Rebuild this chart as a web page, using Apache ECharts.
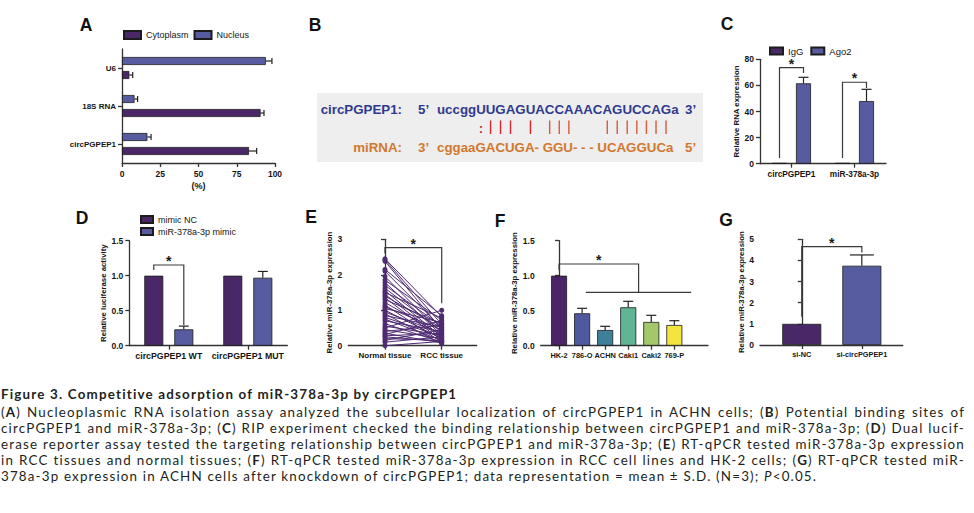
<!DOCTYPE html>
<html><head><meta charset="utf-8">
<script src="https://cdn.jsdelivr.net/npm/echarts@6/dist/echarts.min.js"></script>
<style>
html,body{margin:0;padding:0;background:#fff;}
#wrap{position:relative;width:974px;height:513px;overflow:hidden;background:#fff;}
#chart{position:absolute;left:0;top:0;width:974px;height:513px;}
#caption{position:absolute;left:1px;top:386px;width:964px;font-family:Lato,"Liberation Sans",sans-serif;font-size:13.4px;color:#231f20;}
.ln{text-align:justify;text-align-last:justify;height:16.1px;line-height:16.1px;white-space:normal;}
.last{text-align:left;text-align-last:left;}
.ttl{font-weight:bold;height:17.6px;line-height:17.6px;text-align:left;text-align-last:left;}
#probe{position:absolute;left:0;top:0;visibility:hidden;white-space:nowrap;display:inline-block;font-family:Lato,"Liberation Sans",sans-serif;font-size:13.4px;}
</style></head>
<body>
<div id="wrap">
<div id="chart"></div>
<div id="caption">
<div class="ln ttl" id="ttl">Figure 3. Competitive adsorption of miR-378a-3p by circPGPEP1</div>
<div class="ln body">(<b>A</b>) Nucleoplasmic RNA isolation assay analyzed the subcellular localization of circPGPEP1 in ACHN cells; (<b>B</b>) Potential binding sites of</div>
<div class="ln body">circPGPEP1 and miR-378a-3p; (<b>C</b>) RIP experiment checked the binding relationship between circPGPEP1 and miR-378a-3p; (<b>D</b>) Dual lucif-</div>
<div class="ln body">erase reporter assay tested the targeting relationship between circPGPEP1 and miR-378a-3p; (<b>E</b>) RT-qPCR tested miR-378a-3p expression</div>
<div class="ln body">in RCC tissues and normal tissues; (<b>F</b>) RT-qPCR tested miR-378a-3p expression in RCC cell lines and HK-2 cells; (<b>G</b>) RT-qPCR tested miR-</div>
<div class="ln last body" id="lastln">378a-3p expression in ACHN cells after knockdown of circPGPEP1; data representation = mean ± S.D. (N=3); <i>P</i>&lt;0.05.</div>
</div>
<div id="probe"></div>
</div>
<script>
// fit caption spacing so that line lengths follow the reference
function fitCaption() {
  const probe = document.getElementById('probe');
  function natural(el, ls, bold) {
    probe.innerHTML = el.innerHTML;
    probe.style.letterSpacing = ls + 'px';
    probe.style.fontWeight = bold ? 'bold' : 'normal';
    return probe.getBoundingClientRect().width;
  }
  const last = document.getElementById('lastln');
  const n = last.textContent.length;
  const w0 = natural(last, 0, false);
  const ls = w0 > 0 ? (816 - w0) / n : 0;
  document.querySelectorAll('#caption .body').forEach(el => {
    let l = ls;
    const w = natural(el, l, false);
    if (!el.classList.contains('last') && w > 961) l -= (w - 961) / el.textContent.length;
    el.style.letterSpacing = l.toFixed(3) + 'px';
  });
  const t = document.getElementById('ttl');
  const wt = natural(t, 0, true);
  if (wt > 0) t.style.letterSpacing = ((457 - wt) / t.textContent.length).toFixed(3) + 'px';
}
fitCaption();
if (document.fonts && document.fonts.ready) document.fonts.ready.then(fitCaption);

// ================= DATA =================
// A
const aCategories = ['circPGPEP1', '18S RNA', 'U6'];
const aCytoplasm = [83, 90.6, 4.8];
const aCytoplasmErr = [5, 2.2, 2.2];
const aNucleus = [16.6, 8.2, 94];
const aNucleusErr = [2.4, 2, 4];
// B
const seqTop = 'uccggUUGAGUACCAAACAGUCCAGa';
const seqBottomAligned = 'cggaaGACUGA-GGU---UCAGGUCa';
const seqBottomShown = 'cggaaGACUGA- GGU- - - UCAGGUCa';
// C
const cCategories = ['circPGPEP1', 'miR-378a-3p'];
const cIgG = [0.5, 0.5];
const cAgo2 = [61.6, 48];
const cAgo2Err = [4.6, 9];
// D
const dCategories = ['circPGPEP1 WT', 'circPGPEP1 MUT'];
const dMimicNC = [1.0, 1.0];
const dMimic = [0.234, 0.971];
const dMimicErr = [0.046, 0.09];
// E
const eCategories = ['Normal tissue', 'RCC tissue'];
const eNormal = [2.45, 2.42, 2.38, 2.15, 2.1, 1.95, 1.85, 1.78, 1.7, 1.62, 1.55, 1.5, 1.45, 1.4, 1.35, 1.3, 1.22, 1.15, 1.1, 1.05, 1.0, 0.95, 0.9, 0.85, 0.8, 0.75, 0.7, 0.62, 0.55, 0.5, 0.45, 0.4, 0.35, 0.32, 0.28, 0.25, 0.2, 0.15, 0.1, 0.0];
const eRCC    = [0.82, 0.6, 0.45, 0.85, 0.5, 0.35, 0.72, 0.3, 0.55, 0.4, 0.25, 0.78, 0.2, 0.5, 0.15, 0.62, 0.3, 0.1, 0.45, 0.65, 0.2, 0.35, 0.05, 0.52, 0.25, 0.15, 0.4, 0.1, 0.3, 1.0, 0.2, 0.58, 0.08, 0.7, 0.35, 0.12, 0.15, 0.45, 0.25, 0.12];
// F
const fCategories = ['HK-2', '786-O', 'ACHN', 'Caki1', 'Caki2', '769-P'];
const fValues = [1.0, 0.463, 0.224, 0.549, 0.339, 0.296];
const fErrors = [0, 0.071, 0.053, 0.085, 0.095, 0.061];
// G
const gCategories = ['si-NC', 'si-circPGPEP1'];
const gValues = [1.0, 3.75];
const gErrors = [0, 0.51];

// ================= STYLE =================
const FONT = '"Liberation Sans", Arial, Helvetica, sans-serif';
const PURPLE = '#4a2868';
const BLUE = '#565c9f';
const fColors = ['#4a2466', '#4f5a9e', '#3f7f9a', '#5fb594', '#a3c86c', '#f3e43f'];
const gColors = [PURPLE, BLUE];
const AXC = '#333';
const lineStyle = {color: AXC, width: 1.3};
const lbl = size => ({fontSize: size, fontWeight: 'bold', color: '#151515', fontFamily: FONT, margin: 6});
const nameStyle = {fontSize: 7.8, fontWeight: 'bold', color: '#151515', fontFamily: FONT};
const barItem = c => ({color: c, borderColor: '#1c1c1c', borderWidth: 0.8});

function catAxis(gridIndex, data, size, extra) {
  return Object.assign({type: 'category', gridIndex, data,
    axisLine: {show: true, lineStyle}, axisTick: {show: true, alignWithLabel: true, length: 4, lineStyle},
    axisLabel: Object.assign({interval: 0}, lbl(size)), splitLine: {show: false}}, extra || {});
}
function valAxis(gridIndex, min, max, interval, fmt, extra) {
  return Object.assign({type: 'value', gridIndex, min, max, interval,
    axisLine: {show: true, lineStyle}, axisTick: {show: true, length: 4, lineStyle},
    axisLabel: Object.assign({formatter: fmt}, lbl(8.5)), splitLine: {show: false}}, extra || {});
}
function customValAxis(gridIndex, min, max, names, size) {
  const vals = names.map((n, i) => i);
  return {type: 'value', gridIndex, min, max,
    axisLine: {show: true, lineStyle}, axisTick: {show: true, length: 4, lineStyle, customValues: vals},
    axisLabel: Object.assign({customValues: vals, hideOverlap: false, formatter: v => names[Math.round(v)]}, lbl(size)),
    splitLine: {show: false}};
}
function yName(name, gap) {
  return {name, nameLocation: 'middle', nameGap: gap, nameRotate: 90, nameTextStyle: nameStyle};
}

// error bars (vertical)
function vErr(ax, vals, errs, dx, capHalf) {
  return {type: 'custom', xAxisIndex: ax, yAxisIndex: ax, z: 6, silent: true,
    data: vals.map((v, i) => [i, v, errs[i]]),
    renderItem: (params, api) => {
      const e = api.value(2); if (!e) return null;
      const p0 = api.coord([api.value(0), api.value(1)]);
      const p1 = api.coord([api.value(0), api.value(1) + e]);
      const x = p0[0] + dx;
      const st = {stroke: '#222', lineWidth: 1.2};
      return {type: 'group', children: [
        {type: 'line', shape: {x1: x, y1: p0[1], x2: x, y2: p1[1]}, style: st},
        {type: 'line', shape: {x1: x - capHalf, y1: p1[1], x2: x + capHalf, y2: p1[1]}, style: st}]};
    }};
}
// error bars (horizontal, panel A)
function hErr(ax, vals, errs, dy, capHalf) {
  return {type: 'custom', xAxisIndex: ax, yAxisIndex: ax, z: 6, silent: true,
    data: vals.map((v, i) => [v, i, errs[i]]),
    renderItem: (params, api) => {
      const e = api.value(2); if (!e) return null;
      const p0 = api.coord([api.value(0), api.value(1)]);
      const p1 = api.coord([api.value(0) + e, api.value(1)]);
      const y = p0[1] + dy;
      const st = {stroke: '#222', lineWidth: 1.2};
      return {type: 'group', children: [
        {type: 'line', shape: {x1: p0[0], y1: y, x2: p1[0], y2: y}, style: st},
        {type: 'line', shape: {x1: p1[0], y1: y - capHalf, x2: p1[0], y2: y + capHalf}, style: st}]};
    }};
}
// significance brackets
function brackets(ax, items) {
  return {type: 'custom', xAxisIndex: ax, yAxisIndex: ax, z: 7, silent: true,
    data: items.map(b => [b.x1, b.top]),
    renderItem: (params, api) => {
      const b = items[params.dataIndex];
      const pL = api.coord([b.x1, b.top]), pR = api.coord([b.x2, b.top]);
      const xL = pL[0] + (b.dx1 || 0), xR = pR[0] + (b.dx2 || 0), yT = pL[1];
      const yL = api.coord([b.x1, b.y1])[1], yR = api.coord([b.x2, b.y2])[1];
      const st = {stroke: '#3a3a3a', lineWidth: 1.2, fill: null};
      const ch = [
        {type: 'polyline', shape: {points: [[xL, yL], [xL, yT], [xR, yT], [xR, yR]]}, style: st},
        {type: 'text', style: {text: '*', x: (xL + xR) / 2, y: yT - 4, textAlign: 'center', textVerticalAlign: 'middle',
          font: 'bold 14px ' + FONT, fill: '#1a1a1a'}}];
      if (b.group) {
        const g1 = api.coord([b.group.from, b.group.y]), g2 = api.coord([b.group.to, b.group.y]);
        ch.push({type: 'line', shape: {x1: g1[0], y1: g1[1], x2: g2[0], y2: g2[1]}, style: st});
      }
      return {type: 'group', children: ch};
    }};
}

// ================= PANEL B (sequence alignment) =================
const SEQ_FONT = 'bold 13.3px ' + FONT;
const seqX = 437;
const meas = document.createElement('canvas').getContext('2d');
meas.font = SEQ_FONT;
function pairType(t, b) {
  if (t !== t.toUpperCase() || b === '-' || b !== b.toUpperCase()) return null;
  const p = t + b;
  if (['AU', 'UA', 'GC', 'CG'].includes(p)) return '|';
  if (['GU', 'UG'].includes(p)) return ':';
  return null;
}
const bGraphics = [
  {type: 'rect', shape: {x: 317, y: 93, width: 386, height: 69}, style: {fill: '#eeeeee'}, z: 1},
  {type: 'text', style: {text: 'circPGPEP1:', x: 402, y: 109, textAlign: 'right', textVerticalAlign: 'middle', font: SEQ_FONT, fill: '#2e3a8e'}, z: 2},
  {type: 'text', style: {text: '5\u2019', x: 418, y: 109, textVerticalAlign: 'middle', font: SEQ_FONT, fill: '#2e3a8e'}, z: 2},
  {type: 'text', style: {text: seqTop, x: seqX, y: 109, textVerticalAlign: 'middle', font: SEQ_FONT, fill: '#2e3a8e'}, z: 2},
  {type: 'text', style: {text: '3\u2019', x: 685, y: 109, textVerticalAlign: 'middle', font: SEQ_FONT, fill: '#2e3a8e'}, z: 2},
  {type: 'text', style: {text: 'miRNA:', x: 402, y: 147, textAlign: 'right', textVerticalAlign: 'middle', font: SEQ_FONT, fill: '#d2782e'}, z: 2},
  {type: 'text', style: {text: '3\u2019', x: 418, y: 147, textVerticalAlign: 'middle', font: SEQ_FONT, fill: '#d2782e'}, z: 2},
  {type: 'text', style: {text: seqBottomShown, x: seqX, y: 147, textVerticalAlign: 'middle', font: SEQ_FONT, fill: '#d2782e'}, z: 2},
  {type: 'text', style: {text: '5\u2019', x: 685, y: 147, textVerticalAlign: 'middle', font: SEQ_FONT, fill: '#d2782e'}, z: 2}
];
for (let i = 0; i < seqTop.length; i++) {
  const pt = pairType(seqTop[i], seqBottomAligned[i]);
  if (!pt) continue;
  const cx = seqX + meas.measureText(seqTop.slice(0, i)).width + meas.measureText(seqTop[i]).width / 2;
  const col = i < 12 ? '#d4262c' : '#d65a3c';
  if (pt === '|') bGraphics.push({type: 'line', shape: {x1: cx, y1: 120.5, x2: cx, y2: 134}, style: {stroke: col, lineWidth: 1.4}, z: 2});
  else bGraphics.push({type: 'text', style: {text: ':', x: cx, y: 128, textAlign: 'center', textVerticalAlign: 'middle', font: SEQ_FONT, fill: col}, z: 2});
}
// panel letters
const letters = [['A', 86, 25], ['B', 315, 25], ['C', 727, 24], ['D', 82, 218], ['E', 311, 217], ['F', 500, 221], ['G', 726, 220]];
letters.forEach(l => bGraphics.push({type: 'text', style: {text: l[0], x: l[1], y: l[2], textAlign: 'center', textVerticalAlign: 'middle', font: 'bold 17.5px ' + FONT, fill: '#111'}, z: 3}));

// ================= OPTION =================
const A_OFF = 7, C_OFF = 12, D_OFF = 15;
const legendText = {fontSize: 9, color: '#151515', fontFamily: FONT};

const series = [
  // A
  {name: 'Nucleus', type: 'bar', xAxisIndex: 0, yAxisIndex: 0, data: aNucleus, barWidth: 8, barGap: '75%', itemStyle: barItem(BLUE)},
  {name: 'Cytoplasm', type: 'bar', xAxisIndex: 0, yAxisIndex: 0, data: aCytoplasm, barWidth: 8, barGap: '75%', itemStyle: barItem(PURPLE)},
  hErr(0, aNucleus, aNucleusErr, -A_OFF, 3),
  hErr(0, aCytoplasm, aCytoplasmErr, A_OFF, 3),
  // C
  {name: 'IgG', type: 'bar', xAxisIndex: 1, yAxisIndex: 1, data: cIgG, barWidth: 15, barGap: '60%', itemStyle: barItem(PURPLE)},
  {name: 'Ago2', type: 'bar', xAxisIndex: 1, yAxisIndex: 1, data: cAgo2, barWidth: 15, barGap: '60%', itemStyle: barItem(BLUE)},
  vErr(1, cAgo2, cAgo2Err, C_OFF, 5),
  brackets(1, [{x1: 0, x2: 0, dx1: -C_OFF, dx2: C_OFF, top: 73.6, y1: 4.4, y2: 69.5},
               {x1: 1, x2: 1, dx1: -C_OFF, dx2: C_OFF, top: 62.4, y1: 4.4, y2: 58}]),
  // D
  {name: 'mimic NC', type: 'bar', xAxisIndex: 2, yAxisIndex: 2, data: dMimicNC, barWidth: 19, barGap: '58%', itemStyle: barItem(PURPLE)},
  {name: 'miR-378a-3p mimic', type: 'bar', xAxisIndex: 2, yAxisIndex: 2, data: dMimic, barWidth: 19, barGap: '58%', itemStyle: barItem(BLUE)},
  vErr(2, dMimic, dMimicErr, D_OFF, 5),
  brackets(2, [{x1: 0, x2: 0, dx1: -D_OFF, dx2: D_OFF, top: 1.153, y1: 1.08, y2: 0.297}]),
  // F
  {type: 'bar', xAxisIndex: 4, yAxisIndex: 4, barWidth: 16,
   data: fValues.map((v, i) => ({value: [i, v], itemStyle: barItem(fColors[i])}))},
  vErr(4, fValues, fErrors, 0, 5),
  brackets(4, [{x1: 0, x2: 3.45, top: 1.167, y1: 1.081, y2: 0.763, group: {from: 1.16, to: 5.73, y: 0.763}}]),
  // G
  {type: 'bar', xAxisIndex: 5, yAxisIndex: 5, barWidth: 39,
   data: gValues.map((v, i) => ({value: [i, v], itemStyle: barItem(gColors[i])}))},
  vErr(5, gValues, gErrors, 0, 12),
  brackets(5, [{x1: 0, x2: 1, top: 4.65, y1: 1.34, y2: 4.37}]),
  // E bracket
  brackets(3, [{x1: 0, x2: 1, top: 2.763, y1: 2.61, y2: 1.2}])
];
// E paired lines
eNormal.forEach((v, i) => {
  series.push({type: 'line', xAxisIndex: 3, yAxisIndex: 3, silent: true, data: [[0, v], [1, eRCC[i]]],
    symbol: 'circle', symbolSize: 5, lineStyle: {width: 1, color: '#4e2a72'}, itemStyle: {color: '#4e2a72'}});
});

const option = {
  animation: false,
  backgroundColor: '#fff',
  textStyle: {fontFamily: FONT},
  grid: [
    {left: 122, top: 49, width: 153, height: 114, outerBoundsMode: 'none'},
    {left: 760, top: 59.3, width: 126, height: 104.4, outerBoundsMode: 'none'},
    {left: 129.3, top: 240.7, width: 158, height: 105, outerBoundsMode: 'none'},
    {left: 348.3, top: 239.3, width: 128.4, height: 106.4, outerBoundsMode: 'none'},
    {left: 540.7, top: 240.7, width: 167.3, height: 105, outerBoundsMode: 'none'},
    {left: 760, top: 239.3, width: 142.7, height: 105.7, outerBoundsMode: 'none'}
  ],
  xAxis: [
    valAxis(0, 0, 100, 25, null, {name: '(%)', nameLocation: 'middle', nameGap: 18, nameTextStyle: {fontSize: 9, fontWeight: 'bold', color: '#151515', fontFamily: FONT}}),
    catAxis(1, cCategories, 8.3),
    catAxis(2, dCategories, 8.8),
    customValAxis(3, -0.647, 1.617, eCategories, 8),
    customValAxis(4, -0.796, 6.46, fCategories, 7.4),
    customValAxis(5, -0.695, 1.68, gCategories, 7.3)
  ],
  yAxis: [
    catAxis(0, aCategories, 8),
    valAxis(1, 0, 80, 20, null, yName('Relative RNA expression', 17)),
    valAxis(2, 0, 1.5, 0.5, v => v.toFixed(1), yName('Relative luciferase activity', 22)),
    valAxis(3, 0, 3, 1, null, yName('Relative miR-378a-3p expression', 14)),
    valAxis(4, 0, 1.5, 0.5, v => v.toFixed(1), yName('Relative miR-378a-3p expression', 22)),
    valAxis(5, 0, 5, 1, null, yName('Relative miR-378a-3p expression', 14))
  ],
  legend: [
    {data: ['Cytoplasm', 'Nucleus'], left: 123, top: 30, padding: 0, itemWidth: 17, itemHeight: 8, itemGap: 5, icon: 'rect', textStyle: legendText, selectedMode: false},
    {data: ['IgG', 'Ago2'], left: 769, top: 46, padding: 0, itemWidth: 13, itemHeight: 7, itemGap: 7, icon: 'rect', textStyle: Object.assign({}, legendText, {fontSize: 9.5}), selectedMode: false},
    {data: ['mimic NC', 'miR-378a-3p mimic'], orient: 'vertical', left: 140, top: 215, padding: 0, itemWidth: 12, itemHeight: 7, itemGap: 3, icon: 'rect', textStyle: legendText, selectedMode: false}
  ],
  graphic: bGraphics,
  series
};
const chart = echarts.init(document.getElementById('chart'), null, {renderer: 'svg', width: 974, height: 513});
chart.setOption(option);
</script>
</body></html>
